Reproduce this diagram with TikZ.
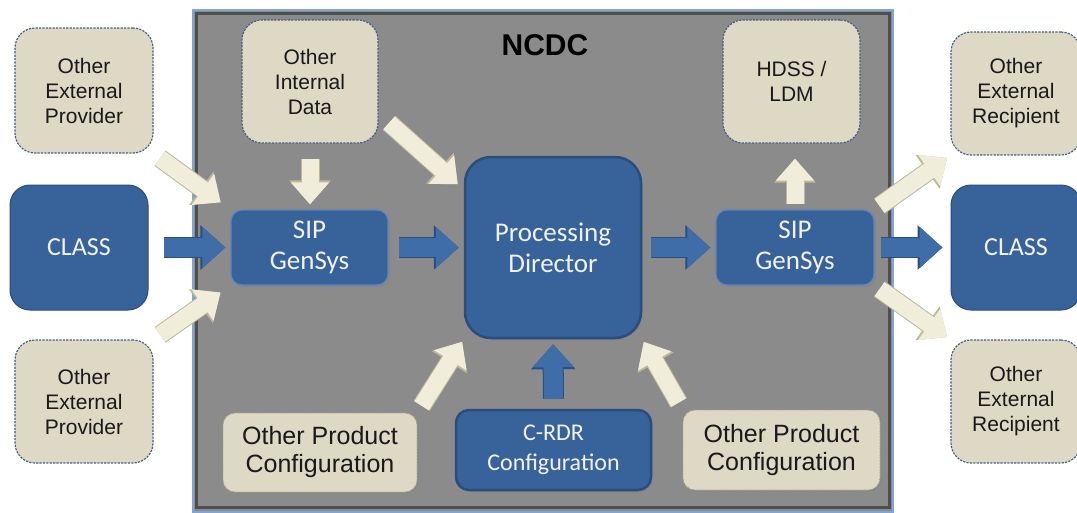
\documentclass[tikz,border=0pt]{standalone}
\usepackage{fontspec}
\setmainfont{Liberation Sans}
\newfontfamily\calfont{Carlito}
\usetikzlibrary{arrows.meta,shadows}
\definecolor{beige}{HTML}{DDD9C4}
\definecolor{beigeline}{HTML}{4A5F86}
\definecolor{boxblue}{HTML}{38629A}
\definecolor{boxblueline}{HTML}{2A4D7C}
\definecolor{sipline}{HTML}{5F86BA}
\definecolor{ncdcgray}{HTML}{8B8B8B}
\definecolor{ncdcdark}{HTML}{4F4F4F}
\definecolor{ncdcblue}{HTML}{7FA6D6}
\definecolor{arrbeige}{HTML}{F0EEDB}
\definecolor{arrbeigeline}{HTML}{BDB899}
\definecolor{arrblue}{HTML}{3F6DA8}
\definecolor{arrblueline}{HTML}{2A4F80}
\tikzset{
  extbox/.style={draw=beigeline, line width=1.2pt, dash pattern=on 2.2pt off 1.2pt,
    fill=beige, rounded corners=20pt, align=center, text=black!90,
    font=\fontsize{21}{25}\selectfont},
  prodbox/.style={draw=beige!75!black, line width=0.8pt, dash pattern=on 2pt off 1pt,
    fill=beige, rounded corners=12pt, align=center, text=black!90,
    font=\fontsize{25}{28}\selectfont,
    drop shadow={shadow xshift=1.5pt, shadow yshift=-1.5pt, opacity=0.35}},
  bluebox/.style={fill=boxblue, draw=boxblueline, line width=1pt, rounded corners=20pt,
    align=center, text=white!95!black, font=\calfont\fontsize{26}{30}\selectfont},
  sipbox/.style={fill=boxblue, draw=sipline, line width=1.2pt, rounded corners=11pt,
    align=center, text=white!95!black, font=\calfont\fontsize{27}{31}\selectfont,
    drop shadow={shadow xshift=2pt, shadow yshift=-2pt, opacity=0.35}},
  pdbox/.style={fill=boxblue, draw=boxblueline, line width=2.5pt, rounded corners=26pt,
    align=center, text=white!95!black, font=\calfont\fontsize{27}{31}\selectfont,
    drop shadow={shadow xshift=2pt, shadow yshift=-2pt, opacity=0.4}},
  crdrbox/.style={fill=boxblue, draw=boxblueline, line width=2.5pt, rounded corners=13pt,
    align=center, text=white!95!black, font=\calfont\fontsize{24}{30}\selectfont,
    drop shadow={shadow xshift=2pt, shadow yshift=-2pt, opacity=0.4}},
  bluearrow/.style={line width=19pt, draw=arrblue,
    -{Triangle[width=40pt,length=23pt]},
    preaction={draw=arrblueline, line width=21pt, -{Triangle[width=43pt,length=25pt]}}},
  beigearrow/.style={line width=17pt, draw=arrbeige,
    -{Triangle[width=37pt,length=22pt]},
    preaction={draw=arrbeigeline, line width=19pt, -{Triangle[width=40pt,length=24pt]}}},
}
\begin{document}
\begin{tikzpicture}[x=1pt,y=1pt]
\useasboundingbox (0,0) rectangle (1077,-512);
% NCDC frame
\path[fill=ncdcgray, draw=ncdcblue, line width=1.5pt] (193,-10) rectangle (893,-512);
\path[draw=ncdcdark, line width=3pt] (196.5,-13.5) rectangle (889.5,-507);
\node[font=\bfseries\fontsize{30}{32}\selectfont] (ncdc) at (545,-45) {NCDC};

% nodes
\node[extbox, minimum width=138pt, minimum height=125pt] (provTL) at (84,-90.5) {Other\\External\\Provider};
\node[bluebox, minimum width=138pt, minimum height=125pt] (classL) at (79,-247.5) {CLASS};
\node[extbox, minimum width=138pt, minimum height=123pt] (provBL) at (84,-401.5) {Other\\External\\Provider};
\node[extbox, minimum width=136pt, minimum height=123pt] (intData) at (310,-81.5) {Other\\Internal\\Data};
\node[sipbox, minimum width=157pt, minimum height=75pt] (sipL) at (309.5,-247.5) {SIP\\GenSys};
\node[pdbox, minimum width=176pt, minimum height=181pt] (pd) at (553,-247.5) {Processing\\Director};
\node[sipbox, minimum width=158pt, minimum height=75pt] (sipR) at (795,-247.5) {SIP\\GenSys};
\node[extbox, minimum width=137pt, minimum height=123pt] (hdss) at (791.5,-81.5) {HDSS /\\LDM};
\node[extbox, minimum width=130pt, minimum height=123pt] (recTR) at (1016,-93.5) {Other\\External\\Recipient};
\node[bluebox, minimum width=130pt, minimum height=125pt] (classR) at (1016,-247.5) {CLASS};
\node[extbox, minimum width=130pt, minimum height=123pt] (recBR) at (1016,-401.5) {Other\\External\\Recipient};
\node[prodbox, minimum width=194pt, minimum height=79pt] (opcL) at (320,-452.5) {Other Product\\Configuration};
\node[crdrbox, minimum width=195pt, minimum height=80pt] (crdr) at (553.5,-450) {C-RDR\\Configuration};
\node[prodbox, minimum width=197pt, minimum height=80pt] (opcR) at (781.5,-450) {Other Product\\Configuration};

% blue arrows
\draw[bluearrow, shorten <=15pt, shorten >=5pt] (classL.east) -- (sipL.west);
\draw[bluearrow, shorten <=10pt, shorten >=5pt] (sipL.east) -- (pd.west);
\draw[bluearrow, shorten <=9pt, shorten >=5pt] (pd.east) -- (sipR.west);
\draw[bluearrow, shorten <=6pt, shorten >=8pt] (sipR.east) -- (classR.west);
\draw[bluearrow, shorten <=10pt, shorten >=5pt] (crdr.north) -- (pd.south);

% beige arrows
\draw[beigearrow, shorten <=15pt, shorten >=5pt] (intData.south) -- (intData.south |- sipL.north);
\draw[beigearrow, shorten <=8pt, shorten >=12pt] (provTL.south east) -- (sipL.north west);
\draw[beigearrow, shorten <=8pt, shorten >=12pt] (provBL.north east) -- (sipL.south west);
\draw[beigearrow, shorten <=14pt, shorten >=8pt] (intData.-25) -- (pd.147);
\draw[beigearrow, shorten <=8pt, shorten >=3pt] (opcL.north east) -- (pd.south west);
\draw[beigearrow, shorten <=8pt, shorten >=3pt] (opcR.north west) -- (pd.south east);
\draw[beigearrow, shorten <=5pt, shorten >=15pt] (sipR.north) -- (sipR.north |- hdss.south);
\draw[beigearrow, shorten <=6pt, shorten >=4pt] (sipR.north east) -- (recTR.south west);
\draw[beigearrow, shorten <=6pt, shorten >=4pt] (sipR.south east) -- (recBR.north west);
\end{tikzpicture}
\end{document}
